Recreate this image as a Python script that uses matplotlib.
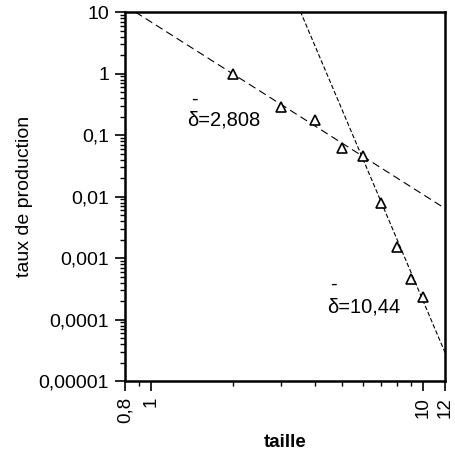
import numpy as np
import matplotlib
matplotlib.use("Agg")
import matplotlib.pyplot as plt
from matplotlib.ticker import FixedLocator, NullFormatter

# data
taille = [2, 3, 4, 5, 6, 7, 8, 9, 10]
taux = [0.98, 0.285, 0.178, 0.061, 0.0465, 0.0080, 0.00152, 0.000453, 0.000233]

# fitted power laws: y = A * x ** slope
slope1, logA1 = -2.808, 0.838
slope2, logA2 = -10.44, 6.73
label1 = "δ=2,808"
label2 = "δ=10,44"

xticks = [0.8, 1, 10, 12]
xticklabels = ["0,8", "1", "10", "12"]
yticks = [1e-5, 1e-4, 1e-3, 1e-2, 1e-1, 1, 10]
yticklabels = ["0,00001", "0,0001", "0,001", "0,01", "0,1", "1", "10"]

plt.rcParams['font.family'] = ['Liberation Sans', 'DejaVu Sans']

fig = plt.figure(figsize=(4.55, 4.61), dpi=100)
ax = fig.add_axes([125 / 455, 0.1735, (445 - 125) / 455, 0.800])
ax.set_xscale('log')
ax.set_yscale('log')
ax.set_xlim(0.8, 12)
ax.set_ylim(1e-5, 10)

xx = np.logspace(np.log10(0.8), np.log10(12), 200)
ax.plot(xx, 10 ** logA1 * xx ** slope1, color='black', lw=0.8, dashes=(7, 4))
ax.plot(xx, 10 ** logA2 * xx ** slope2, color='black', lw=0.8, dashes=(4, 2))
ax.plot(taille, taux, linestyle='none', marker='^', markersize=7.5,
        markerfacecolor='white', markeredgecolor='black', markeredgewidth=1.2)

ax.xaxis.set_major_locator(FixedLocator(xticks))
ax.set_xticklabels(xticklabels, rotation=90, fontsize=13.5)
ax.xaxis.set_minor_locator(FixedLocator([0.9, 2, 3, 4, 5, 6, 7, 8, 9]))
ax.xaxis.set_minor_formatter(NullFormatter())

ax.yaxis.set_major_locator(FixedLocator(yticks))
ax.set_yticklabels(yticklabels, fontsize=14)
minor_y = [m * 10.0 ** e for e in range(-5, 1) for m in range(2, 10)]
ax.yaxis.set_minor_locator(FixedLocator(minor_y))
ax.yaxis.set_minor_formatter(NullFormatter())

ax.tick_params(which='major', direction='out', length=7.5, width=1.2, pad=4)
ax.tick_params(which='minor', direction='out', length=3.8, width=1.0)
for s in ax.spines.values():
    s.set_linewidth(1.8)

ax.set_xlabel('taille', fontsize=13.5, fontweight='bold', labelpad=8)
ax.set_ylabel('taux de production', fontsize=14, labelpad=4)

# annotations (pixel positions from top-left)
W, H = 455, 461
fig.text(187 / W, 1 - 120 / H, label1, fontsize=14.5, ha='left', va='center')
fig.text(194 / W, 1 - 99 / H, "-", fontsize=14.5, ha='center', va='center')
fig.text(327 / W, 1 - 307 / H, label2, fontsize=14.5, ha='left', va='center')
fig.text(333 / W, 1 - 284 / H, "-", fontsize=14.5, ha='center', va='center')

fig.savefig('out.png', dpi=100)
